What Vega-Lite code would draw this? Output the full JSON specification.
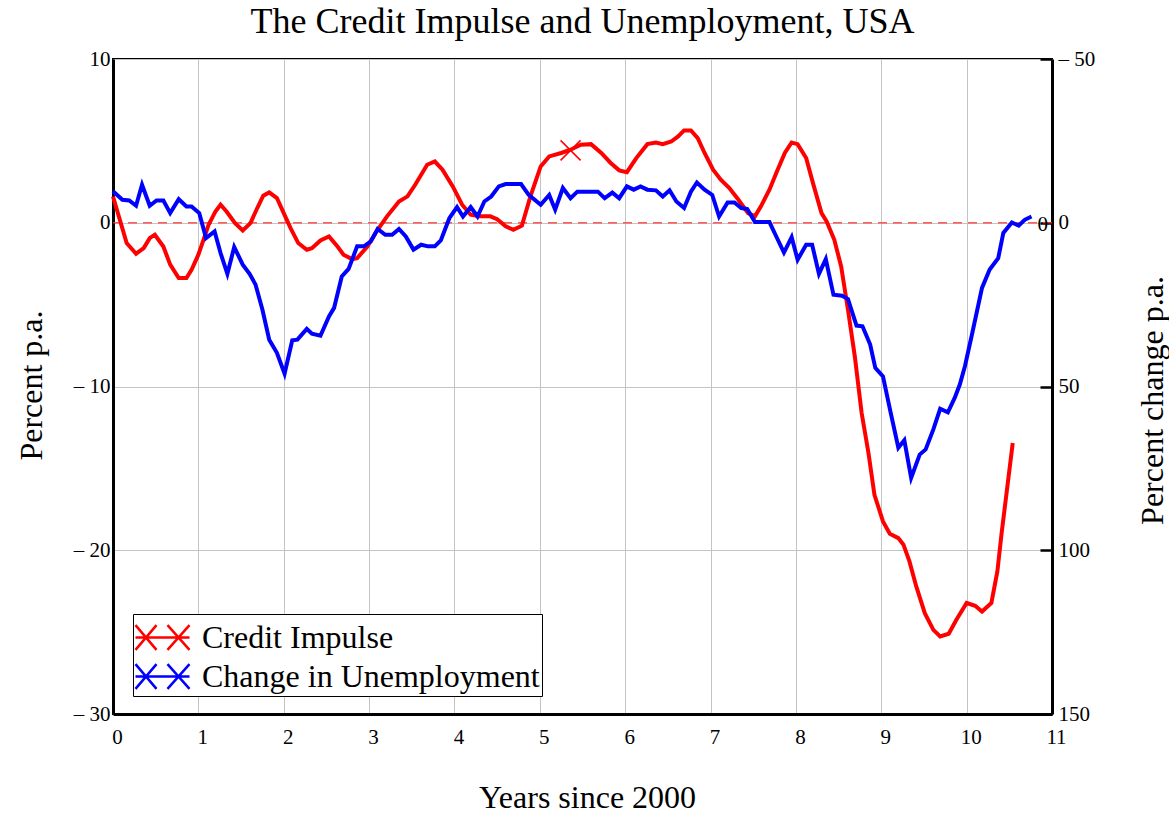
{
  "$schema": "https://vega.github.io/schema/vega-lite/v6.json",
  "width": 939,
  "height": 655,
  "autosize": {"type": "none"},
  "padding": {"left": 113, "top": 59, "right": 117, "bottom": 100},
  "background": "white",
  "title": {"text": "The Credit Impulse and Unemployment, USA", "font": "Liberation Serif", "fontSize": 36, "fontWeight": "normal", "color": "black", "anchor": "middle", "baseline": "alphabetic", "offset": -21},
  "config": {
    "view": {"stroke": "black", "strokeWidth": 2},
    "axis": {"labelFont": "Liberation Serif", "labelFontSize": 21, "labelColor": "black", "titleFont": "Liberation Serif", "titleFontSize": 32, "titleFontWeight": "normal", "titleColor": "black", "domainColor": "black", "domainWidth": 3, "gridColor": "#c4c4c4", "gridWidth": 1, "tickColor": "black"}
  },
  "datasets": {
    "credit": [
      {"t":0.0,"v":1.6},{"t":0.16,"v":-1.24},{"t":0.27,"v":-1.89},{"t":0.36,"v":-1.55},{"t":0.43,"v":-0.94},{"t":0.49,"v":-0.73},{"t":0.59,"v":-1.45},{"t":0.67,"v":-2.56},{"t":0.77,"v":-3.38},{"t":0.86,"v":-3.38},{"t":0.92,"v":-2.87},{"t":1.0,"v":-1.95},{"t":1.06,"v":-1.04},{"t":1.12,"v":-0.12},{"t":1.2,"v":0.69},{"t":1.26,"v":1.1},{"t":1.33,"v":0.69},{"t":1.43,"v":-0.02},{"t":1.52,"v":-0.47},{"t":1.61,"v":-0.02},{"t":1.69,"v":0.9},{"t":1.76,"v":1.65},{"t":1.83,"v":1.85},{"t":1.92,"v":1.51},{"t":2.0,"v":0.59},{"t":2.08,"v":-0.33},{"t":2.17,"v":-1.24},{"t":2.27,"v":-1.65},{"t":2.33,"v":-1.55},{"t":2.43,"v":-1.08},{"t":2.53,"v":-0.84},{"t":2.63,"v":-1.45},{"t":2.7,"v":-1.95},{"t":2.8,"v":-2.22},{"t":2.86,"v":-2.16},{"t":2.98,"v":-1.45},{"t":3.1,"v":-0.43},{"t":3.21,"v":0.39},{"t":3.35,"v":1.3},{"t":3.45,"v":1.61},{"t":3.54,"v":2.32},{"t":3.68,"v":3.54},{"t":3.77,"v":3.74},{"t":3.86,"v":3.24},{"t":3.98,"v":2.22},{"t":4.09,"v":1.1},{"t":4.19,"v":0.49},{"t":4.29,"v":0.39},{"t":4.42,"v":0.39},{"t":4.5,"v":0.22},{"t":4.6,"v":-0.22},{"t":4.69,"v":-0.43},{"t":4.79,"v":-0.18},{"t":4.89,"v":1.61},{"t":5.01,"v":3.44},{"t":5.11,"v":4.05},{"t":5.25,"v":4.26},{"t":5.36,"v":4.46},{"t":5.48,"v":4.76},{"t":5.6,"v":4.8},{"t":5.72,"v":4.26},{"t":5.83,"v":3.65},{"t":5.93,"v":3.2},{"t":6.02,"v":3.09},{"t":6.13,"v":3.95},{"t":6.26,"v":4.8},{"t":6.36,"v":4.9},{"t":6.44,"v":4.8},{"t":6.54,"v":4.96},{"t":6.62,"v":5.27},{"t":6.69,"v":5.64},{"t":6.77,"v":5.64},{"t":6.85,"v":5.17},{"t":6.93,"v":4.26},{"t":7.03,"v":3.24},{"t":7.12,"v":2.63},{"t":7.22,"v":2.12},{"t":7.32,"v":1.45},{"t":7.44,"v":0.59},{"t":7.52,"v":0.39},{"t":7.59,"v":1.0},{"t":7.69,"v":2.02},{"t":7.77,"v":3.04},{"t":7.87,"v":4.26},{"t":7.95,"v":4.9},{"t":8.02,"v":4.8},{"t":8.12,"v":3.95},{"t":8.2,"v":2.42},{"t":8.3,"v":0.59},{"t":8.36,"v":0.08},{"t":8.45,"v":-1.04},{"t":8.53,"v":-2.67},{"t":8.61,"v":-5.31},{"t":8.69,"v":-8.16},{"t":8.77,"v":-11.62},{"t":8.85,"v":-14.06},{"t":8.92,"v":-16.61},{"t":9.02,"v":-18.24},{"t":9.1,"v":-18.99},{"t":9.2,"v":-19.26},{"t":9.26,"v":-19.66},{"t":9.33,"v":-20.68},{"t":9.41,"v":-22.21},{"t":9.51,"v":-23.84},{"t":9.61,"v":-24.86},{"t":9.69,"v":-25.26},{"t":9.79,"v":-25.1},{"t":9.88,"v":-24.24},{"t":10.0,"v":-23.22},{"t":10.1,"v":-23.39},{"t":10.18,"v":-23.74},{"t":10.29,"v":-23.22},{"t":10.36,"v":-21.29},{"t":10.41,"v":-18.95},{"t":10.54,"v":-13.45}
    ],
    "unemp": [
      {"t":0.0,"u":-9.6},{"t":0.11,"u":-7.0},{"t":0.19,"u":-6.8},{"t":0.27,"u":-5.2},{"t":0.34,"u":-11.6},{"t":0.43,"u":-5.2},{"t":0.51,"u":-6.8},{"t":0.59,"u":-6.8},{"t":0.67,"u":-2.95},{"t":0.77,"u":-7.2},{"t":0.86,"u":-5.0},{"t":0.92,"u":-5.0},{"t":1.01,"u":-2.95},{"t":1.09,"u":4.7},{"t":1.19,"u":2.65},{"t":1.26,"u":9.25},{"t":1.34,"u":15.6},{"t":1.42,"u":7.4},{"t":1.52,"u":12.8},{"t":1.6,"u":15.6},{"t":1.67,"u":18.9},{"t":1.75,"u":26.5},{"t":1.83,"u":35.7},{"t":1.92,"u":39.7},{"t":2.01,"u":46.1},{"t":2.1,"u":35.9},{"t":2.16,"u":35.7},{"t":2.27,"u":32.4},{"t":2.33,"u":33.9},{"t":2.43,"u":34.5},{"t":2.53,"u":28.6},{"t":2.59,"u":26.0},{"t":2.68,"u":16.4},{"t":2.76,"u":14.1},{"t":2.86,"u":7.2},{"t":2.94,"u":7.2},{"t":3.02,"u":5.7},{"t":3.1,"u":1.9},{"t":3.19,"u":3.7},{"t":3.27,"u":3.7},{"t":3.35,"u":1.9},{"t":3.43,"u":4.2},{"t":3.52,"u":8.2},{"t":3.61,"u":6.7},{"t":3.69,"u":7.2},{"t":3.77,"u":7.2},{"t":3.84,"u":5.4},{"t":3.94,"u":-1.4},{"t":4.03,"u":-4.8},{"t":4.1,"u":-1.9},{"t":4.19,"u":-4.8},{"t":4.27,"u":-1.9},{"t":4.35,"u":-6.5},{"t":4.43,"u":-8.0},{"t":4.52,"u":-11.1},{"t":4.6,"u":-11.8},{"t":4.78,"u":-11.8},{"t":4.87,"u":-8.5},{"t":5.01,"u":-5.5},{"t":5.11,"u":-8.5},{"t":5.18,"u":-4.0},{"t":5.27,"u":-10.6},{"t":5.36,"u":-7.5},{"t":5.44,"u":-9.5},{"t":5.68,"u":-9.5},{"t":5.76,"u":-7.5},{"t":5.85,"u":-9.2},{"t":5.93,"u":-7.5},{"t":6.02,"u":-11.1},{"t":6.1,"u":-10.1},{"t":6.18,"u":-11.1},{"t":6.26,"u":-10.1},{"t":6.36,"u":-9.9},{"t":6.44,"u":-8.0},{"t":6.52,"u":-9.9},{"t":6.6,"u":-6.5},{"t":6.69,"u":-4.5},{"t":6.77,"u":-9.5},{"t":6.84,"u":-12.3},{"t":6.93,"u":-10.1},{"t":7.02,"u":-8.5},{"t":7.1,"u":-1.9},{"t":7.2,"u":-6.2},{"t":7.28,"u":-6.2},{"t":7.36,"u":-4.5},{"t":7.43,"u":-4.2},{"t":7.52,"u":-0.2},{"t":7.69,"u":-0.2},{"t":7.77,"u":4.2},{"t":7.86,"u":9.1},{"t":7.95,"u":4.4},{"t":8.02,"u":11.3},{"t":8.12,"u":6.7},{"t":8.19,"u":6.7},{"t":8.27,"u":15.6},{"t":8.35,"u":11.1},{"t":8.44,"u":22.0},{"t":8.54,"u":22.3},{"t":8.61,"u":23.3},{"t":8.71,"u":31.4},{"t":8.78,"u":31.6},{"t":8.87,"u":37.2},{"t":8.93,"u":44.3},{"t":9.02,"u":46.9},{"t":9.11,"u":58.0},{"t":9.2,"u":68.7},{"t":9.27,"u":66.4},{"t":9.35,"u":77.9},{"t":9.45,"u":70.8},{"t":9.52,"u":69.2},{"t":9.61,"u":63.1},{"t":9.69,"u":56.8},{"t":9.78,"u":57.9},{"t":9.86,"u":53.5},{"t":9.92,"u":49.4},{"t":9.98,"u":43.8},{"t":10.07,"u":33.2},{"t":10.18,"u":19.9},{"t":10.27,"u":14.3},{"t":10.37,"u":10.8},{"t":10.43,"u":3.1},{"t":10.53,"u":-0.1},{"t":10.61,"u":0.9},{"t":10.68,"u":-0.9},{"t":10.76,"u":-1.9}
    ]
  },
  "layer": [
    {
      "layer": [
        {
          "data": {"values": [{"v": 0}]},
          "mark": {"type": "rule", "color": "#ff3333", "strokeDash": [9, 6], "strokeWidth": 1.5, "opacity": 0.8},
          "encoding": {"y": {"field": "v", "type": "quantitative"}}
        },
        {
          "data": {"name": "credit"},
          "mark": {"type": "line", "strokeWidth": 4},
          "encoding": {
            "x": {"field": "t", "type": "quantitative", "scale": {"domain": [0, 11], "nice": false, "zero": false},
                  "axis": {"values": [0,1,2,3,4,5,6,7,8,9,10,11], "format": "d", "tickSize": 0, "labelPadding": 12, "labelOffset": 4, "labelFlush": false, "domain": true, "grid": true, "title": "Years since 2000", "titleX": 474, "titleY": 83, "titleBaseline": "middle"}},
            "y": {"field": "v", "type": "quantitative", "scale": {"domain": [-30, 10], "nice": false, "zero": false},
                  "axis": {"values": [-30,-20,-10,0,10], "tickSize": 0, "labelPadding": 3, "labelExpr": "datum.value < 0 ? '– ' + (-datum.value) : datum.label", "grid": true, "title": "Percent p.a.", "titleX": -82, "titleY": 326, "titleAngle": 270, "titleBaseline": "middle", "titleAlign": "center"}},
            "color": {"datum": "Credit Impulse", "type": "nominal",
                      "scale": {"domain": ["Credit Impulse", "Change in Unemployment"], "range": ["#ff0000", "#0000ff"]},
                      "legend": {"orient": "none", "legendX": 20, "legendY": 555, "title": null, "symbolType": "M-1.05,0H1.65M-1.05,-0.62L0,0.62M-1.05,0.62L0,-0.62M0.55,-0.62L1.65,0.62M0.55,0.62L1.65,-0.62", "symbolSize": 1600, "symbolStrokeWidth": 2.5, "labelFont": "Liberation Serif", "labelFontSize": 32, "labelColor": "black", "labelOffset": 24, "labelLimit": 500, "padding": 2, "rowPadding": 0, "strokeColor": "black", "fillColor": "white"}}
          }
        },
        {
          "data": {"values": [{"t": 5.36, "v": 4.42}]},
          "mark": {"type": "point", "shape": "M-1,-1L1,1M-1,1L1,-1", "size": 400, "filled": false, "color": "#ff0000", "strokeWidth": 1.5, "opacity": 1},
          "encoding": {"x": {"field": "t", "type": "quantitative"}, "y": {"field": "v", "type": "quantitative"}}
        },
        {
          "data": {"values": [{"t": 11, "v": 0, "label": "0"}]},
          "mark": {"type": "text", "align": "right", "baseline": "middle", "dx": -4, "dy": 2, "font": "Liberation Serif", "fontSize": 21, "color": "black"},
          "encoding": {"x": {"field": "t", "type": "quantitative"}, "y": {"field": "v", "type": "quantitative"}, "text": {"field": "label"}}
        }
      ]
    },
    {
      "data": {"name": "unemp"},
      "mark": {"type": "line", "strokeWidth": 4},
      "encoding": {
        "x": {"field": "t", "type": "quantitative"},
        "y": {"field": "u", "type": "quantitative", "scale": {"domain": [-50, 150], "reverse": true, "nice": false, "zero": false},
              "axis": {"orient": "right", "values": [-50,0,50,100,150], "tickSize": -12, "tickWidth": 2.5, "labelPadding": 18, "labelExpr": "datum.value < 0 ? '– ' + (-datum.value) : datum.label", "grid": false, "title": "Percent change p.a.", "titleX": 100, "titleY": 341, "titleAngle": 270, "titleBaseline": "middle", "titleAlign": "center"}},
        "color": {"datum": "Change in Unemployment", "type": "nominal"}
      }
    }
  ],
  "resolve": {"scale": {"y": "independent"}}
}
